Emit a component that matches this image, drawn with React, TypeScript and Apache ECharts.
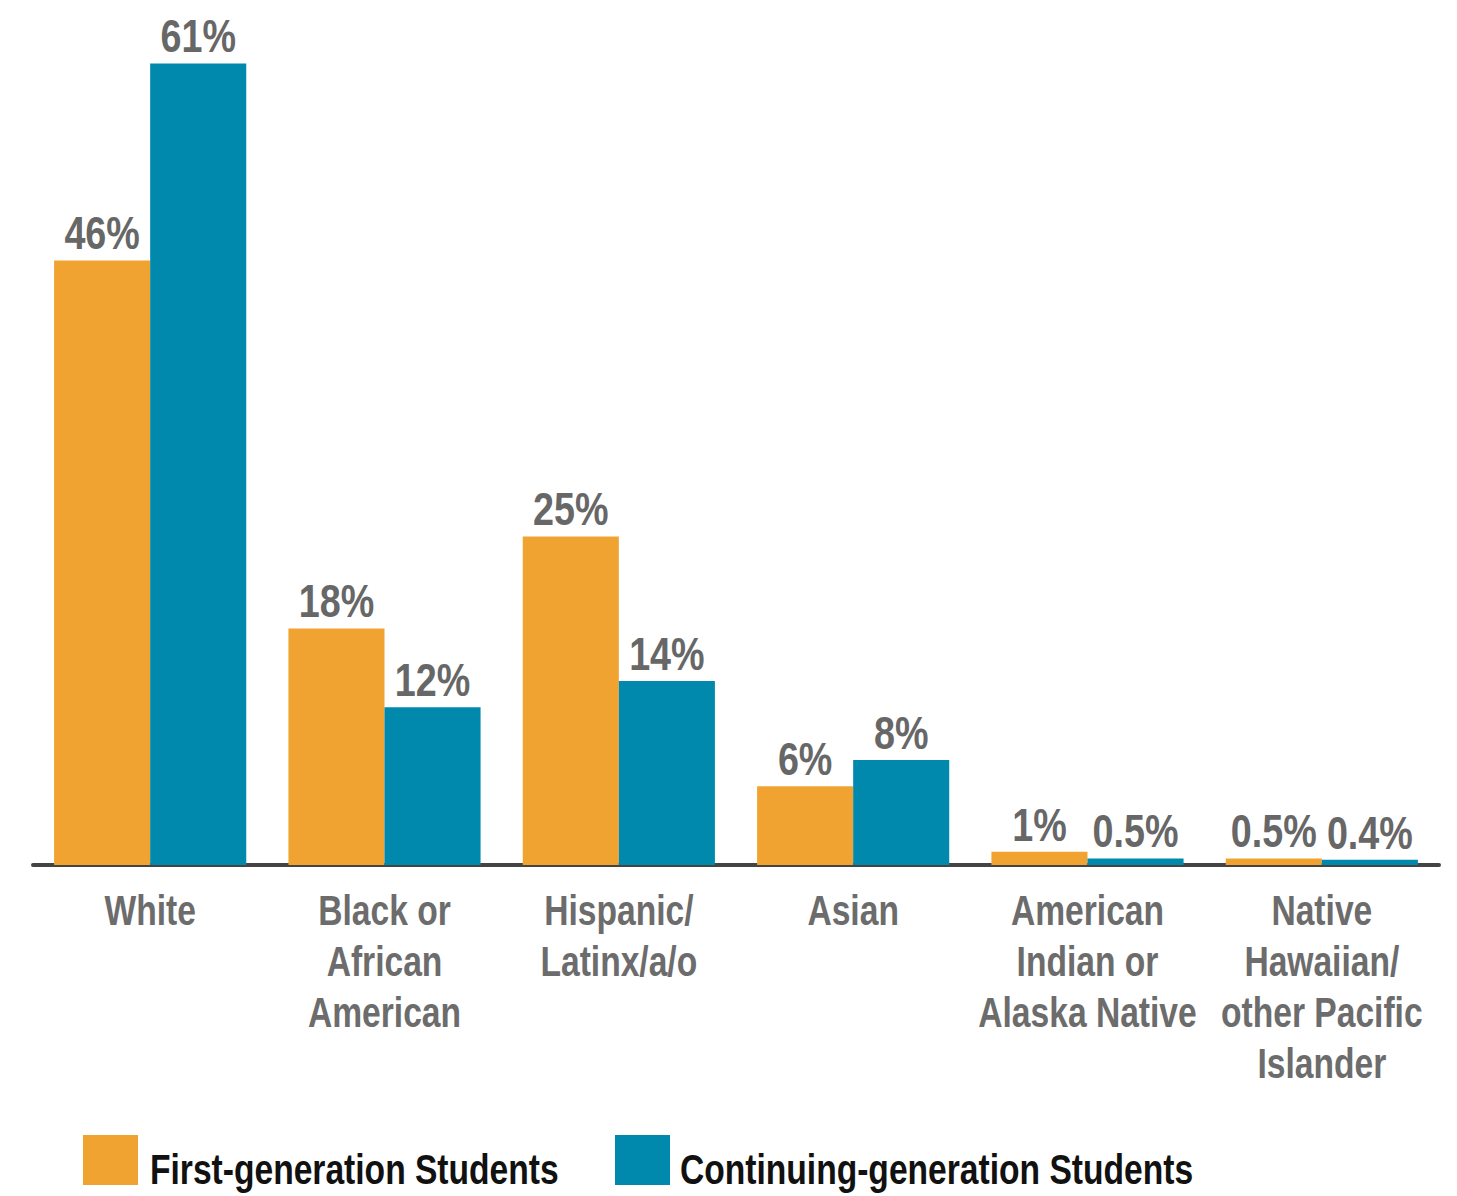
import React, { useEffect, useRef } from "react";
import * as echarts from "echarts";

const categories = [
  "White",
  "Black or\nAfrican\nAmerican",
  "Hispanic/\nLatinx/a/o",
  "Asian",
  "American\nIndian or\nAlaska Native",
  "Native\nHawaiian/\nother Pacific\nIslander",
];
const firstGen = [46, 18, 25, 6, 1, 0.5];
const continuingGen = [61, 12, 14, 8, 0.5, 0.4];
const seriesNames = ["First-generation Students", "Continuing-generation Students"];
const colors = ["#F0A330", "#0088AD"];

const FONT = "'Liberation Sans', Arial, sans-serif";
const SQUEEZE = 0.8;
const GAP = 0.18;

export default function App() {
  const ref = useRef<HTMLDivElement>(null);
  useEffect(() => {
    if (!ref.current) return;
    const chart = echarts.init(ref.current, null, { renderer: "svg" });

    const valueLabelSeries = (values: number[], side: number) => ({
      type: "custom",
      silent: true,
      z: 5,
      data: values.map((v, i) => [i, v]),
      renderItem: (params: any, api: any) => {
        const idx = api.value(0);
        const val = api.value(1);
        const pt = api.coord([idx, val]);
        const band = api.size([1, 0])[0];
        const bw = (band * (1 - GAP)) / 2;
        return {
          type: "text",
          x: pt[0] + side * bw / 2,
          y: pt[1] - 4,
          scaleX: 0.82,
          style: {
            text: val + "%",
            fontFamily: FONT,
            fontWeight: "bold",
            fontSize: 46,
            fill: "#676767",
            align: "center",
            verticalAlign: "bottom",
          },
        };
      },
    });

    chart.setOption({
      animation: false,
      backgroundColor: "#ffffff",
      grid: { left: 25, right: 10, top: 16, bottom: 331, containLabel: false },
      xAxis: {
        type: "category",
        data: categories,
        axisLine: { show: true, lineStyle: { color: "#444444", width: 4 } },
        axisTick: { show: false },
        axisLabel: { show: false },
      },
      yAxis: {
        type: "value",
        min: 0,
        max: 64,
        show: false,
        splitLine: { show: false },
      },
      graphic: [
        { type: "rect", left: 75, top: 1127, shape: { width: 55, height: 50 }, style: { fill: colors[0] } },
        {
          type: "text",
          x: 142,
          y: 1162,
          scaleX: SQUEEZE,
          style: {
            text: seriesNames[0],
            fontFamily: FONT,
            fontWeight: "bold",
            fontSize: 42,
            fill: "#111111",
            align: "left",
            verticalAlign: "middle",
          },
        },
        { type: "rect", left: 607, top: 1127, shape: { width: 55, height: 50 }, style: { fill: colors[1] } },
        {
          type: "text",
          x: 672,
          y: 1162,
          scaleX: SQUEEZE,
          style: {
            text: seriesNames[1],
            fontFamily: FONT,
            fontWeight: "bold",
            fontSize: 42,
            fill: "#111111",
            align: "left",
            verticalAlign: "middle",
          },
        },
      ],
      series: [
        {
          name: seriesNames[0],
          type: "bar",
          data: firstGen,
          barGap: "0%",
          barCategoryGap: GAP * 100 + "%",
          itemStyle: { color: colors[0] },
        },
        {
          name: seriesNames[1],
          type: "bar",
          data: continuingGen,
          barGap: "0%",
          barCategoryGap: GAP * 100 + "%",
          itemStyle: { color: colors[1] },
        },
        valueLabelSeries(firstGen, -1),
        valueLabelSeries(continuingGen, 1),
        {
          type: "custom",
          silent: true,
          data: categories.map((c, i) => [i, 0]),
          renderItem: (params: any, api: any) => {
            const idx = api.value(0);
            const pt = api.coord([idx, 0]);
            return {
              type: "text",
              x: pt[0],
              y: pt[1] + 20,
              scaleX: SQUEEZE,
              style: {
                text: categories[idx],
                fontFamily: FONT,
                fontWeight: "bold",
                fontSize: 42,
                lineHeight: 51,
                fill: "#6c6c6c",
                align: "center",
                verticalAlign: "top",
              },
            };
          },
        },
      ],
    });
    return () => chart.dispose();
  }, []);
  return <div ref={ref} style={{ width: 1441, height: 1188 }} />;
}
